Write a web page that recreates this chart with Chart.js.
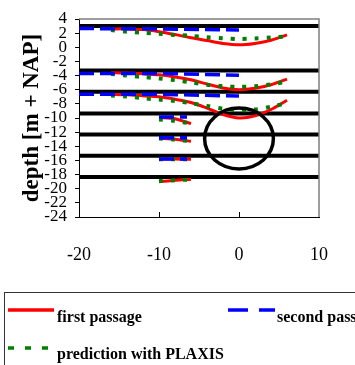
<!DOCTYPE html>
<html>
<head>
<meta charset="utf-8">
<title>Settlement troughs</title>
<script src="https://cdn.jsdelivr.net/npm/chart.js@4.4.1/dist/chart.umd.min.js"></script>
<style>
    html, body { margin: 0; padding: 0; background: #fff; }
    canvas { display: block; }
</style>
</head>
<body>
<canvas id="settlementChart" width="355" height="365"></canvas>
<script>
// distance from tunnel axis [m]
const longX = [-16, -14, -12, -10, -8, -6, -4, -2, 0, 2, 4, 6];
const shortX = [-10, -8, -6];
const blueLongX = [-20, -10, 0];
const blueShortX = [-10, -8, -6.5];

// depth [m + NAP] of each measured level
const firstLong = [
    [2.6, 2.6, 2.5, 2.2, 1.8, 1.35, 0.95, 0.55, 0.35, 0.55, 1.0, 1.75],
    [-3.6, -3.65, -3.75, -3.9, -4.2, -4.6, -5.2, -5.75, -6.0, -5.8, -5.3, -4.5],
    [-6.65, -6.7, -6.85, -7.0, -7.35, -7.8, -8.6, -9.5, -10.0, -9.7, -8.8, -7.5]
];
const firstShort = [
    [-9.9, -10.1, -10.8],
    [-12.85, -13.0, -13.3],
    [-15.8, -15.8, -15.85],
    [-19.0, -18.8, -18.65]
];
const secondLong = [
    [2.65, 2.6, 2.45],
    [-3.7, -3.7, -3.95],
    [-6.65, -6.65, -6.9]
];
const secondShort = [
    [-9.85, -9.85, -9.85],
    [-12.8, -12.8, -12.8],
    [-15.8, -15.8, -15.8]
];
const plaxisLong = [
    [2.45, 2.2, 2.05, 1.9, 1.75, 1.62, 1.42, 1.28, 1.17, 1.25, 1.38, 1.55],
    [-3.77, -4.0, -4.2, -4.4, -4.65, -4.95, -5.3, -5.5, -5.6, -5.5, -5.25, -4.85],
    [-6.83, -6.97, -7.2, -7.4, -7.6, -7.9, -8.3, -8.7, -8.9, -8.8, -8.4, -7.9]
];
const plaxisShort = [
    [-10.2, -10.4, -10.8],
    [-12.9, -13.05, -13.3],
    [-15.85, -15.85, -15.85],
    [-18.9, -18.8, -18.7]
];

// measuring levels and tunnel
const levels = [3.0, -3.3, -6.3, -9.35, -12.35, -15.35, -18.35];
const tunnelCenter = [0, -12.9];
const tunnelRadius = 4.3;

const yTicks = [4, 2, 0, -2, -4, -6, -8, -10, -12, -14, -16, -18, -20, -22, -24];
const xTicks = [-20, -10, 0, 10];

// turn groups into one point list, with a null between groups so lines break
function toPoints(xs, groups, points) {
    groups.forEach(ys => {
        ys.forEach((y, i) => points.push({ x: xs[i], y: y }));
        points.push({ x: xs[xs.length - 1], y: null });
    });
    return points;
}

const levelPoints = [];
levels.forEach(y => {
    levelPoints.push({ x: -20, y: y }, { x: 10, y: y }, { x: 10, y: null });
});

// legend box under the chart
const legendItems = [
    { dataset: 0, x: 8, len: 46, lineY: 310, textX: 57, textY: 322, dash: [] },
    { dataset: 1, x: 228, len: 47, lineY: 310, textX: 277, textY: 322, dash: [20, 11] },
    { dataset: 2, x: 8, len: 40, lineY: 348, textX: 57, textY: 359, dash: [6, 11] }
];

const boxLegend = {
    id: 'boxLegend',
    afterDraw(chart) {
        const ctx = chart.ctx;
        ctx.save();
        ctx.strokeStyle = '#333';
        ctx.lineWidth = 1;
        ctx.strokeRect(4.5, 292.5, 400, 100);
        ctx.font = 'bold 16px "Liberation Serif"';
        ctx.fillStyle = '#000';
        legendItems.forEach(item => {
            const ds = chart.data.datasets[item.dataset];
            ctx.strokeStyle = ds.borderColor;
            ctx.lineWidth = 3.5;
            ctx.setLineDash(item.dash);
            ctx.beginPath();
            ctx.moveTo(item.x, item.lineY);
            ctx.lineTo(item.x + item.len, item.lineY);
            ctx.stroke();
            ctx.setLineDash([]);
            ctx.fillText(ds.label, item.textX, item.textY);
        });
        ctx.restore();
    }
};

// gray frame, inward x ticks and the tunnel circle
const frameAndTunnel = {
    id: 'frameAndTunnel',
    afterDatasetsDraw(chart) {
        const ctx = chart.ctx;
        const area = chart.chartArea;
        const xs = chart.scales.x;
        const ys = chart.scales.y;
        ctx.save();

        ctx.strokeStyle = '#7f7f7f';
        ctx.lineWidth = 1.5;
        ctx.beginPath();
        ctx.moveTo(area.left, area.top);
        ctx.lineTo(area.right, area.top);
        ctx.lineTo(area.right, area.bottom);
        ctx.stroke();

        ctx.strokeStyle = '#000';
        ctx.lineWidth = 1;
        xTicks.forEach(v => {
            if (v > xs.min && v < xs.max) {
                const px = Math.round(xs.getPixelForValue(v)) + 0.5;
                ctx.beginPath();
                ctx.moveTo(px, area.bottom);
                ctx.lineTo(px, area.bottom - 5);
                ctx.stroke();
            }
        });

        const cx = xs.getPixelForValue(tunnelCenter[0]);
        const cy = ys.getPixelForValue(tunnelCenter[1]);
        const rx = Math.abs(xs.getPixelForValue(tunnelCenter[0] + tunnelRadius) - cx);
        const ry = Math.abs(ys.getPixelForValue(tunnelCenter[1] + tunnelRadius) - cy);
        ctx.lineWidth = 3.5;
        ctx.beginPath();
        ctx.ellipse(cx, cy, rx, ry, 0, 0, Math.PI * 2);
        ctx.stroke();
        ctx.restore();
    }
};

const ctx = document.getElementById('settlementChart');
new Chart(ctx, {
    type: 'line',
    data: {
        datasets: [
            {
                label: 'first passage',
                data: toPoints(shortX, firstShort, toPoints(longX, firstLong, [])),
                borderColor: '#ff0000',
                borderWidth: 3,
                tension: 0.3,
                order: 3
            },
            {
                label: 'second passage',
                data: toPoints(blueShortX, secondShort, toPoints(blueLongX, secondLong, [])),
                borderColor: '#0000ff',
                borderWidth: 3.5,
                borderDash: [15, 6],
                order: 1
            },
            {
                label: 'prediction with PLAXIS',
                data: toPoints(shortX, plaxisShort, toPoints(longX, plaxisLong, [])),
                borderColor: '#008000',
                borderWidth: 4,
                borderDash: [4, 8],
                tension: 0.3,
                order: 2
            },
            {
                label: 'levels',
                data: levelPoints,
                borderColor: '#000',
                borderWidth: 4,
                order: 5
            }
        ]
    },
    options: {
        responsive: false,
        animation: false,
        elements: {
            point: { radius: 0 }
        },
        layout: {
            padding: { top: 19, right: 35, bottom: 73, left: 0 }
        },
        plugins: {
            legend: { display: false },
            tooltip: { enabled: false }
        },
        scales: {
            x: {
                type: 'linear',
                min: -20,
                max: 10,
                afterBuildTicks: scale => { scale.ticks = xTicks.map(v => ({ value: v })); },
                afterFit: scale => { scale.height = 75; },
                grid: { display: false, drawTicks: false },
                border: { display: true, color: '#000', width: 1 },
                ticks: {
                    padding: 27,
                    color: '#000',
                    font: { family: '"Liberation Serif"', size: 18 }
                }
            },
            y: {
                type: 'linear',
                min: -24,
                max: 4,
                afterBuildTicks: scale => { scale.ticks = yTicks.map(v => ({ value: v })); },
                afterFit: scale => { scale.width = 79; },
                grid: {
                    display: true,
                    drawOnChartArea: false,
                    drawTicks: true,
                    tickLength: 4,
                    color: '#000'
                },
                border: { display: true, color: '#000', width: 1 },
                ticks: {
                    autoSkip: false,
                    padding: 8,
                    color: '#000',
                    font: { family: '"Liberation Serif"', size: 17 }
                },
                title: {
                    display: true,
                    text: 'depth [m + NAP]',
                    color: '#000',
                    padding: { top: 18, bottom: 0 },
                    font: { family: '"Liberation Serif"', size: 23, weight: 'bold' }
                }
            }
        }
    },
    plugins: [frameAndTunnel, boxLegend]
});
</script>
</body>
</html>
